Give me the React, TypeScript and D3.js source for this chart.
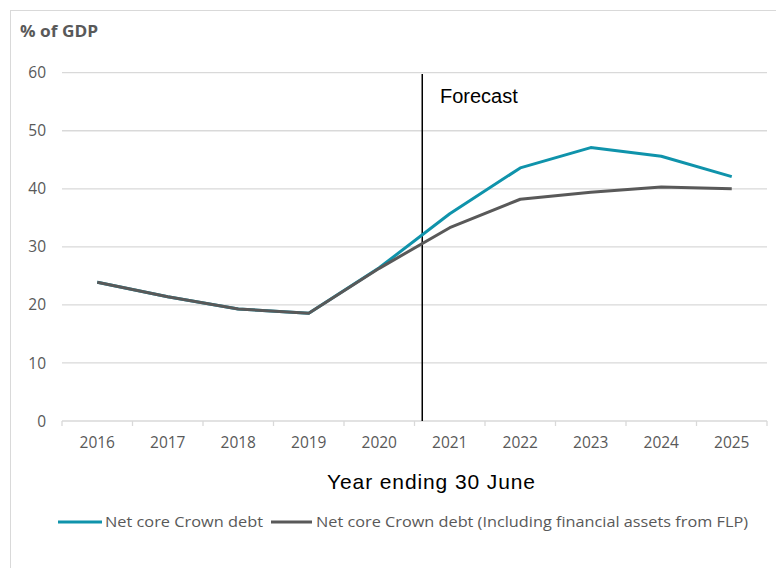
import React from "react";
import * as d3 from "d3";

const years = ["2016", "2017", "2018", "2019", "2020", "2021", "2022", "2023", "2024", "2025"];
const netCoreDebt = [23.9, 21.4, 19.3, 18.55, 26.4, 35.7, 43.6, 47.1, 45.6, 42.1];
const netCoreDebtFLP = [23.9, 21.4, 19.3, 18.55, 26.3, 33.3, 38.2, 39.4, 40.3, 40.0];
const yTicks = [0, 10, 20, 30, 40, 50, 60];
const forecastAt = 2020.61;
const seriesNames = ["Net core Crown debt", "Net core Crown debt (Including financial assets from FLP)"];

const W = 776, H = 568;
const left = 62, right = 767, top = 72.7, bottom = 421;
const tickFont = "'Open Sans', 'Noto Sans', sans-serif";
const arial = "'Liberation Sans', Arial, sans-serif";

export default function App() {
  const x = d3.scaleBand<string>().domain(years).range([left, right]).padding(0);
  const xc = (y: string) => (x(y) as number) + x.bandwidth() / 2;
  const xLin = d3.scaleLinear().domain([+years[0], +years[years.length - 1]]).range([xc(years[0]), xc(years[years.length - 1])]);
  const yS = d3.scaleLinear().domain([0, 60]).range([bottom, top]);
  const line = d3.line<number>().x((_, i) => xc(years[i])).y((v) => yS(v));
  const fx = xLin(forecastAt);
  const tickPos = years.map((yr) => x(yr) as number).concat([right]);

  return (
    <svg width={W} height={H} style={{ position: "absolute", left: 0, top: 0, display: "block" }}>
      <rect x={0} y={0} width={W} height={H} fill="#fff" />
      <rect x={10.5} y={10.5} width={900} height={700} fill="none" stroke="#d9d9d9" strokeWidth={1} />
      <text x={20} y={36.5} fontFamily={tickFont} fontWeight={700} fontSize={16} fill="#595959" textLength={78} lengthAdjust="spacingAndGlyphs">% of GDP</text>
      {yTicks.map((t) => (
        <g key={t}>
          {t > 0 && <line x1={left} x2={right} y1={yS(t)} y2={yS(t)} stroke="#d9d9d9" strokeWidth={1.3} />}
          <text x={46} y={yS(t)} dy="0.36em" textAnchor="end" fontFamily={tickFont} fontSize={15.5} fill="#595959">{t}</text>
        </g>
      ))}
      <line x1={left} x2={right} y1={bottom} y2={bottom} stroke="#d9d9d9" strokeWidth={1.3} />
      {tickPos.map((p, i) => (
        <line key={i} x1={p} x2={p} y1={bottom} y2={bottom + 5} stroke="#d9d9d9" strokeWidth={1.3} />
      ))}
      {years.map((yr) => (
        <text key={yr} x={xc(yr)} y={448} textAnchor="middle" fontFamily={tickFont} fontSize={15.5} fill="#595959">{yr}</text>
      ))}
      <line x1={fx} x2={fx} y1={74} y2={bottom} stroke="#000" strokeWidth={1.5} />
      <text x={440} y={103.3} fontFamily={arial} fontSize={20} fill="#000">Forecast</text>
      <path d={line(netCoreDebt) || ""} fill="none" stroke="#0f93ab" strokeWidth={3} strokeLinejoin="round" />
      <path d={line(netCoreDebtFLP) || ""} fill="none" stroke="#595959" strokeWidth={3} strokeLinejoin="round" />
      <text x={327} y={489} fontFamily={arial} fontSize={21} fill="#000" textLength={208} lengthAdjust="spacing">Year ending 30 June</text>
      <line x1={58} x2={102} y1={522} y2={522} stroke="#0f93ab" strokeWidth={3} />
      <text x={105} y={527} fontFamily={tickFont} fontSize={15} fill="#595959" textLength={158} lengthAdjust="spacingAndGlyphs">{seriesNames[0]}</text>
      <line x1={271} x2={312} y1={522} y2={522} stroke="#595959" strokeWidth={3} />
      <text x={316} y={527} fontFamily={tickFont} fontSize={15} fill="#595959" textLength={432} lengthAdjust="spacingAndGlyphs">{seriesNames[1]}</text>
    </svg>
  );
}
